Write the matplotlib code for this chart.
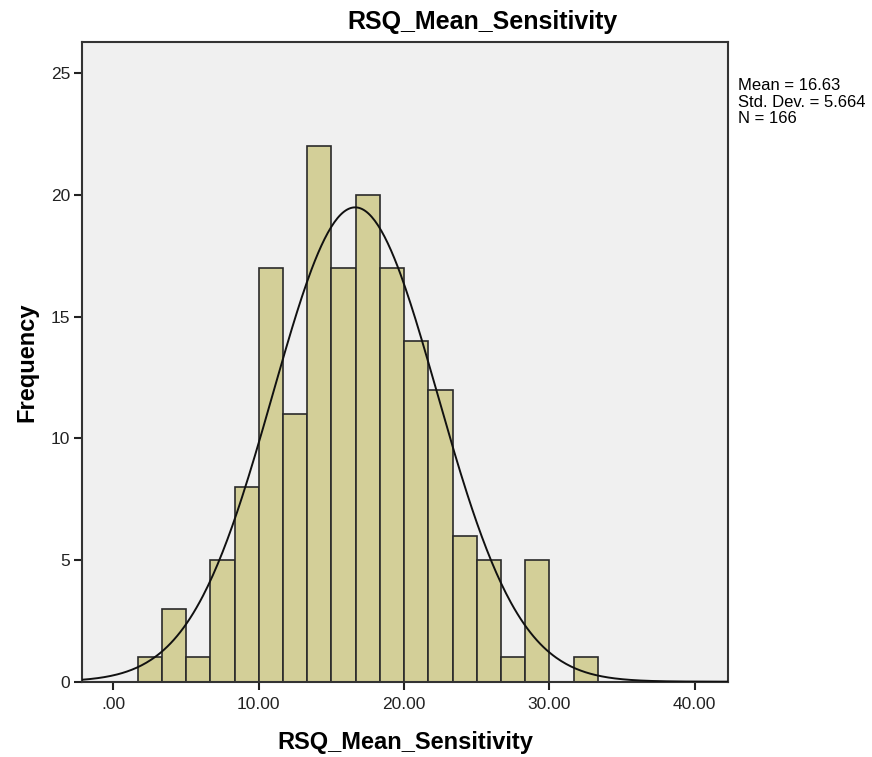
import numpy as np
import matplotlib
matplotlib.use("Agg")
import matplotlib.pyplot as plt

plt.rcParams['font.family'] = ['Liberation Sans', 'DejaVu Sans']

# histogram bins (width 5/3) and counts
bin_width = 5.0 / 3.0
bin_edges = np.arange(1, 21) * bin_width
counts = [1, 3, 1, 5, 8, 17, 11, 22, 17, 20, 17, 14, 12, 6, 5, 1, 5, 0, 1]

mean = 16.63
std = 5.664
n = 166

xticks = [0, 10, 20, 30, 40]
xticklabels = ['.00', '10.00', '20.00', '30.00', '40.00']
yticks = [0, 5, 10, 15, 20, 25]

fig = plt.figure(figsize=(8.72, 7.57), dpi=100)
ax = fig.add_axes([0.0935, 0.0995, 0.7415, 0.845])
ax.set_facecolor('#f0f0f0')

ax.bar(bin_edges[:-1], counts, width=bin_width, align='edge',
       color='#d3cf98', edgecolor='#2a2a2a', linewidth=1.2, zorder=2)

# normal curve scaled to counts
xs = np.linspace(-2.2, 42.3, 400)
ys = n * bin_width / (std * np.sqrt(2 * np.pi)) * np.exp(-0.5 * ((xs - mean) / std) ** 2)
ax.plot(xs, ys, color='#111111', linewidth=1.4, zorder=3)

ax.set_xlim(-2.2, 42.3)
ax.set_ylim(0, 26.28)
ax.set_xticks(xticks)
ax.set_xticklabels(xticklabels)
ax.set_yticks(yticks)
ax.tick_params(labelsize=12.5, length=6, width=1.5, color='#222222', labelcolor='#222222', pad=2)
ax.tick_params(axis='x', pad=5)
for s in ax.spines.values():
    s.set_linewidth(1.5)
    s.set_color('#333333')

ax.set_xlabel('RSQ_Mean_Sensitivity', fontsize=17, fontweight='bold', labelpad=14)
ax.set_ylabel('Frequency', fontsize=17, fontweight='bold', labelpad=9)
fig.text(0.553, 0.971, 'RSQ_Mean_Sensitivity', ha='center', va='center',
         fontsize=18, fontweight='bold')

fig.text(0.846, 0.865, 'Mean = %.2f\nStd. Dev. = %.3f\nN = %d' % (mean, std, n),
         ha='left', va='center', fontsize=12, linespacing=1.15)

fig.savefig('out.png', dpi=100)
